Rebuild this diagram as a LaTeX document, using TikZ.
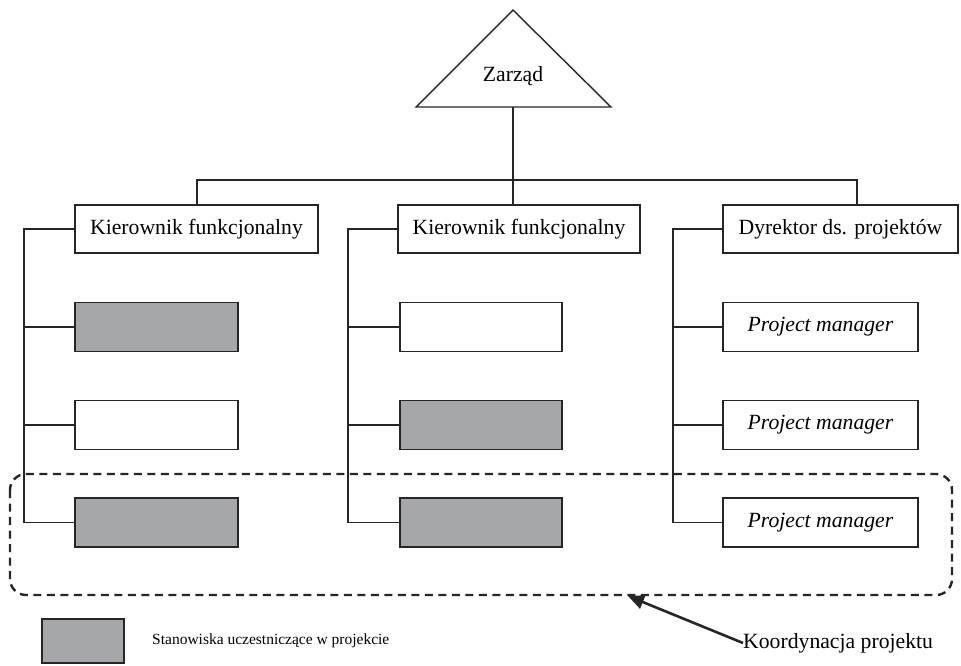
\documentclass[tikz,border=0pt]{standalone}
\usepackage{fontspec}
\setmainfont{Liberation Serif}
\usetikzlibrary{arrows.meta}
\definecolor{postgray}{RGB}{166,167,171}
\begin{document}
\begin{tikzpicture}[x=1pt,y=-1pt,
  line/.style={draw=black!85,line width=1.4pt},
  headbox/.style={draw=black!85,line width=1.4pt,fill=white,minimum height=48pt,inner sep=0pt,
    font=\fontsize{21.7}{26}\selectfont},
  postbox/.style={draw=black!85,line width=1.4pt,fill=white,minimum height=49pt,inner sep=0pt,
    font=\fontsize{21.7}{26}\selectfont\itshape},
  active/.style={fill=postgray},
  coord/.style={draw=black!85,line width=2.4pt,dash pattern=on 8pt off 5.5pt,rounded corners=16pt},
]
\useasboundingbox (0,0) rectangle (961,665);

% board
\draw[line,line join=miter] (416,107) -- (513,10) -- (611,107) -- cycle;
\node[font=\fontsize{21.7}{26}\selectfont] (zarzad) at (513,76) {Zarząd};
\coordinate (zbase) at (513,107);

% heads of the three columns
\node[headbox,minimum width=243pt] (k1) at (196.5,229) {Kierownik funkcjonalny};
\node[headbox,minimum width=242pt] (k2) at (519,229) {Kierownik funkcjonalny};
\node[headbox,minimum width=235pt] (d3) at (840.5,229) {Dyrektor ds. projektów};

% positions, column 1
\node[postbox,active,minimum width=163pt] (a1) at (156.5,327) {};
\node[postbox,minimum width=163pt] (a2) at (156.5,425) {};
\node[postbox,active,minimum width=163pt] (a3) at (156.5,522.5) {};
% column 2
\node[postbox,minimum width=162pt] (b1) at (481,327) {};
\node[postbox,active,minimum width=162pt] (b2) at (481,425) {};
\node[postbox,active,minimum width=162pt] (b3) at (481,522.5) {};
% column 3
\node[postbox,minimum width=195pt] (c1) at (820.5,327) {Project manager};
\node[postbox,minimum width=195pt] (c2) at (820.5,425) {Project manager};
\node[postbox,minimum width=195pt] (c3) at (820.5,522.5) {Project manager};

% bus from the board
\coordinate (bus) at (513,180);
\coordinate (t1) at (197,0);
\coordinate (t3) at (857,0);
\draw[line] (zbase) -- (zbase |- k2.north);
\draw[line] (t1 |- k1.north) -- (t1 |- bus) -- (t3 |- bus) -- (t3 |- d3.north);

% column spines
\coordinate (s1) at (24,0);
\coordinate (s2) at (348,0);
\coordinate (s3) at (673,0);
\draw[line] (k1.west) -- (s1 |- k1.west) -- (s1 |- a3.west) -- (a3.west);
\draw[line] (s1 |- a1.west) -- (a1.west);
\draw[line] (s1 |- a2.west) -- (a2.west);
\draw[line] (k2.west) -- (s2 |- k2.west) -- (s2 |- b3.west) -- (b3.west);
\draw[line] (s2 |- b1.west) -- (b1.west);
\draw[line] (s2 |- b2.west) -- (b2.west);
\draw[line] (d3.west) -- (s3 |- d3.west) -- (s3 |- c3.west) -- (c3.west);
\draw[line] (s3 |- c1.west) -- (c1.west);
\draw[line] (s3 |- c2.west) -- (c2.west);

% project coordination area
\draw[coord] (10,474) rectangle (952,595);
\coordinate (areatip) at (628,596);
\node[anchor=west,inner sep=0pt,font=\fontsize{21.7}{26}\selectfont] (koord) at (743,643) {Koordynacja projektu};
\draw[line width=2.6pt,black!85,-{Triangle[length=16pt,width=14pt]}] (koord.west) -- (areatip);

% legend
\node[draw=black!85,line width=1.4pt,fill=postgray,minimum width=82pt,minimum height=44pt,inner sep=0pt] (leg) at (83,641) {};
\node[anchor=west,inner sep=0pt,font=\fontsize{15.5}{18}\selectfont] (legtext) at (152,641) {Stanowiska uczestniczące w projekcie};
\end{tikzpicture}
\end{document}
